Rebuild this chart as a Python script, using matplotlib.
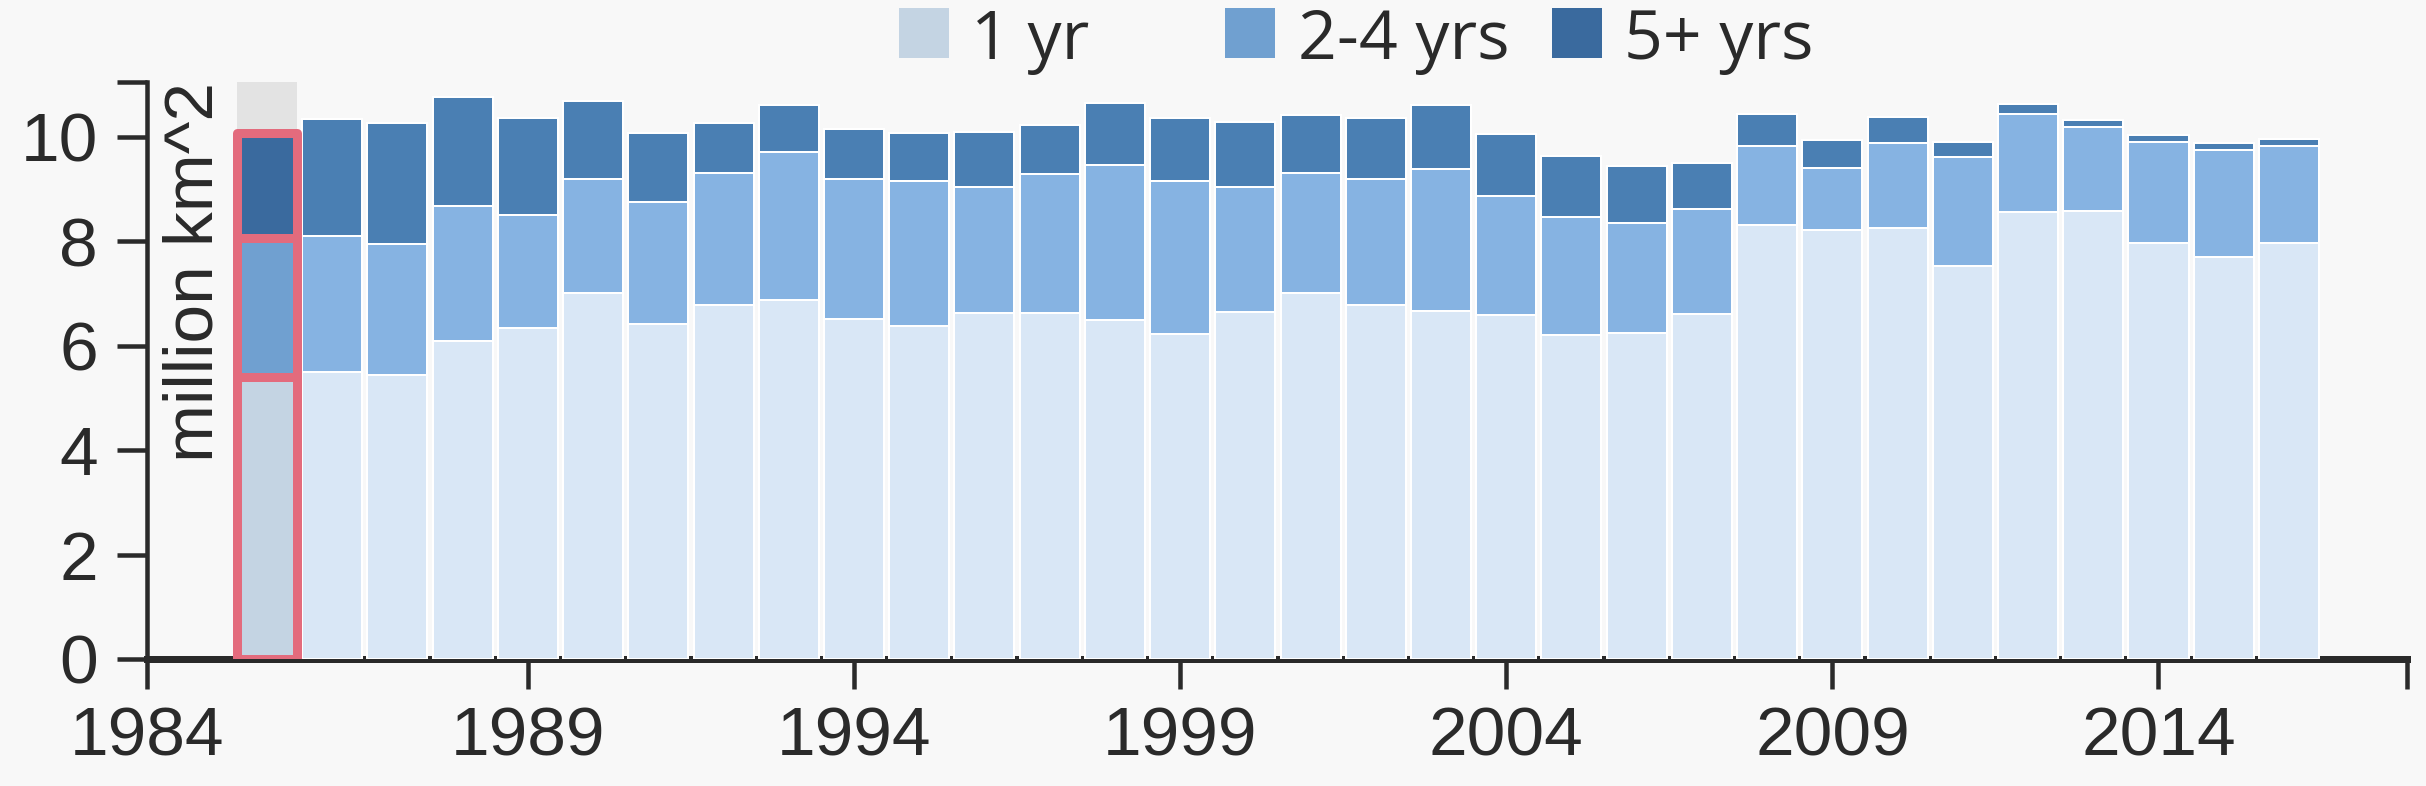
import matplotlib
matplotlib.use("Agg")
import matplotlib.pyplot as plt
from matplotlib.patches import Rectangle

# ice area by age class, million km^2
years = list(range(1985, 2017))
one_yr = [5.40, 5.50, 5.44, 6.09, 6.34, 7.01, 6.42, 6.77, 6.87, 6.51, 6.38, 6.62,
          6.62, 6.50, 6.23, 6.64, 7.01, 6.78, 6.66, 6.58, 6.21, 6.25, 6.60, 8.31,
          8.22, 8.26, 7.52, 8.56, 8.58, 7.96, 7.70, 7.96]
two_four = [2.67, 2.60, 2.51, 2.59, 2.17, 2.19, 2.33, 2.53, 2.84, 2.69, 2.78, 2.42,
            2.66, 2.96, 2.93, 2.40, 2.29, 2.42, 2.73, 2.29, 2.25, 2.10, 2.01, 1.52,
            1.19, 1.63, 2.09, 1.87, 1.61, 1.94, 2.04, 1.87]
five_plus = [2.00, 2.24, 2.31, 2.09, 1.85, 1.48, 1.33, 0.96, 0.90, 0.95, 0.92, 1.05,
             0.94, 1.18, 1.20, 1.25, 1.11, 1.16, 1.21, 1.19, 1.18, 1.10, 0.89, 0.60,
             0.52, 0.49, 0.30, 0.19, 0.14, 0.13, 0.15, 0.13]
series_labels = ["1 yr", "2-4 yrs", "5+ yrs"]
highlight_year = 1985

xtick_years = [1989, 1994, 1999, 2004, 2009, 2014]
xtick_labels = ["1984", "1989", "1994", "1999", "2004", "2009", "2014", ""]
ytick_vals = [0, 2, 4, 6, 8, 10]

# styling
BG = "#f8f8f8"
TXT = "#2a2a2a"
bar_colors = ["#d9e7f6", "#86b3e2", "#4a7fb3"]
hl_colors = ["#c4d4e3", "#70a0d0", "#3a6a9e"]
RED = "#e36b7d"
GREY = "#e3e3e3"
W, H, DPI = 2426, 786, 100
px = 72.0 / DPI  # points per pixel

XMIN, XMAX = 1983.16, 2017.81
YMAX = 11.05

fig = plt.figure(figsize=(W / DPI, H / DPI), dpi=DPI, facecolor=BG)
ax = fig.add_axes([147 / W, 127 / H, (2407 - 147) / W, (659 - 82) / H])
ax.set_facecolor(BG)

series = [one_yr, two_four, five_plus]
hi = years.index(highlight_year)

# grey hover column behind highlighted bar
ax.bar(years[hi], YMAX, width=0.92, color=GREY, zorder=0.5, linewidth=0)

bottom = [0.0] * len(years)
for k, vals in enumerate(series):
    cols = [hl_colors[k] if i == hi else bar_colors[k] for i in range(len(years))]
    bars = ax.bar(years, vals, bottom=bottom, width=0.92, color=cols,
                  edgecolor="white", linewidth=2 * px, zorder=2)
    b = bars[hi]
    b.set_edgecolor(RED)
    b.set_linewidth(9 * px)
    b.set_joinstyle("round")
    b.set_zorder(3)
    bottom = [bottom[i] + vals[i] for i in range(len(years))]

ax.set_xlim(XMIN, XMAX)
ax.set_ylim(0, YMAX)

ax.set_xticks([XMIN] + xtick_years + [XMAX])
ax.set_xticklabels(xtick_labels)
ax.set_yticks(ytick_vals + [YMAX])
ax.set_yticklabels([str(v) for v in ytick_vals] + [""])

for lab in ax.get_xticklabels() + ax.get_yticklabels():
    lab.set_fontfamily("Liberation Sans")
    lab.set_fontsize(50)
    lab.set_color(TXT)

ax.tick_params(axis="x", length=30 * px, width=4.5 * px, color=TXT, pad=16 * px)
ax.tick_params(axis="y", length=30 * px, width=4.5 * px, color=TXT, pad=19 * px)

for s in ["top", "right"]:
    ax.spines[s].set_visible(False)
ax.spines["left"].set_linewidth(4.5 * px)
ax.spines["left"].set_color(TXT)
ax.spines["bottom"].set_linewidth(7 * px)
ax.spines["bottom"].set_color(TXT)
ax.spines["bottom"].set_zorder(1)
ax.spines["left"].set_zorder(1)

ax.text((213 - 147) / (2407 - 147), 1.0, "million km^2", transform=ax.transAxes,
        rotation=90, rotation_mode="anchor", ha="right", va="baseline",
        fontsize=50, fontfamily="Liberation Sans", color=TXT)

# legend, fixed-width items across the top
leg_x0, leg_step, leg_size = 899, 326.5, 50
for i, lab in enumerate(series_labels):
    x = leg_x0 + i * leg_step
    fig.patches.append(Rectangle((x / W, (H - 8 - leg_size) / H), leg_size / W, leg_size / H,
                                 transform=fig.transFigure, facecolor=hl_colors[i],
                                 edgecolor="none"))
    fig.text((x + 72) / W, (H - 59) / H, lab, fontsize=49, fontfamily="Open Sans",
             color=TXT, ha="left", va="baseline")

fig.savefig("out.png", dpi=DPI, facecolor=BG)
